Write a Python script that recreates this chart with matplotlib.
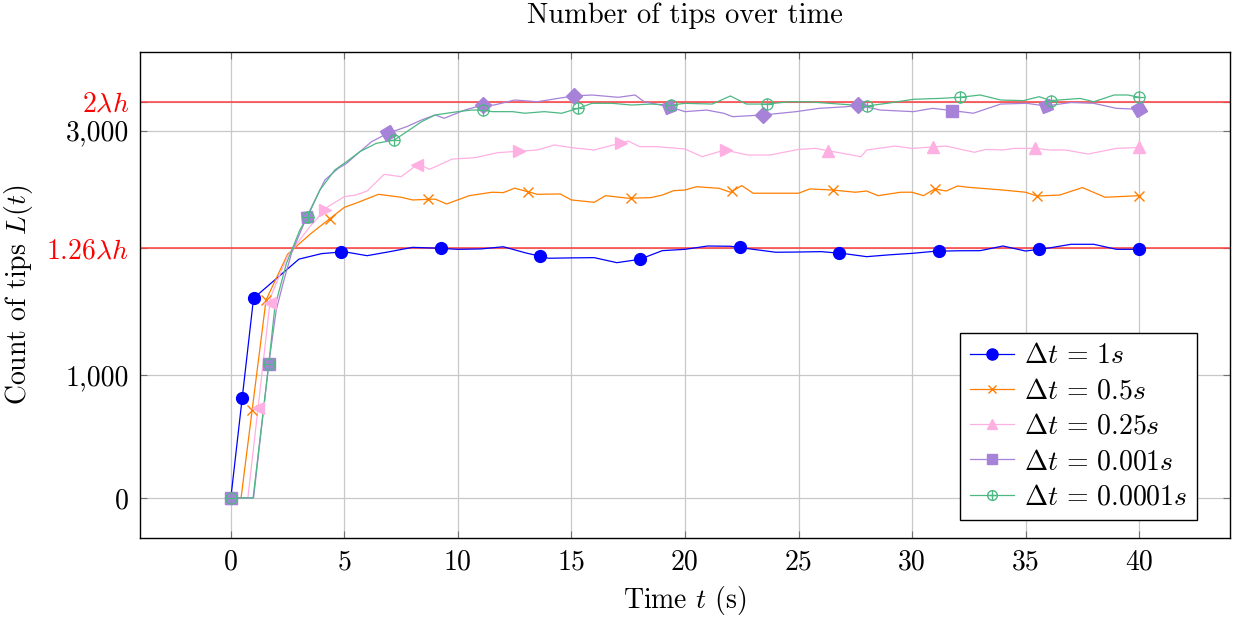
import numpy as np
import matplotlib
matplotlib.use("Agg")
import matplotlib.pyplot as plt
from matplotlib.markers import MarkerStyle
from matplotlib.transforms import Affine2D
from matplotlib.lines import Line2D

plt.rcParams['font.family'] = 'serif'
plt.rcParams['font.serif'] = ['cmr10', 'DejaVu Serif']
plt.rcParams['mathtext.fontset'] = 'cm'
plt.rcParams['axes.formatter.use_mathtext'] = True

# ---------------- data ----------------
lam_h = 1617
ref_levels = [2 * lam_h, 1.26 * lam_h]
ref_labels = [r'$2\lambda h$', r'$1.26\lambda h$']

t_1 = list(range(0, 41))
v_1 = [0, 1630, 1790, 1950, 1995, 2010, 1978, 2011, 2046, 2040, 2030, 2033, 2051,
       2000, 1957, 1960, 1962, 1921, 1948, 2019, 2030, 2057, 2055, 2030, 2006, 2008,
       2011, 1995, 1970, 1985, 1997, 2014, 2018, 2019, 2057, 2016, 2040, 2071, 2071,
       2030, 2030]
mk_1 = [0, 0.5, 1.0, 4.85, 9.25, 13.6, 18.0, 22.4, 26.8, 31.2, 35.6, 40]

t_05 = [0, 0.45, 1.55, 2.5, 3.5, 5.0, 5.5, 6.5, 7.5, 8.0, 9.0, 9.5, 10.5, 11.5, 12.0,
        12.5, 13.5, 14.5, 15.0, 16.0, 16.5, 17.5, 18.5, 19.0, 19.5, 20.0, 20.5, 21.5,
        22.0, 22.5, 23.0, 25.0, 25.5, 26.5, 27.5, 28.0, 28.5, 29.5, 30.0, 30.5, 31.0,
        31.5, 32.0, 32.5, 34.0, 35.0, 35.5, 36.5, 37.5, 38.5, 40.0]
v_05 = [0, 0, 1616, 1990, 2155, 2373, 2406, 2479, 2455, 2433, 2440, 2400, 2468, 2496,
        2493, 2529, 2479, 2482, 2433, 2414, 2468, 2447, 2452, 2473, 2509, 2514, 2541,
        2528, 2496, 2550, 2488, 2488, 2523, 2514, 2496, 2506, 2468, 2496, 2496, 2468,
        2523, 2506, 2547, 2536, 2514, 2496, 2465, 2473, 2534, 2455, 2468]
mk_05 = [0, 0.94, 1.55, 4.36, 8.7, 13.1, 17.6, 22.06, 26.5, 31.0, 35.5, 40]

t_025 = [0, 0.75, 1.75, 2.5, 3.5, 4.25, 5.0, 5.5, 6.0, 6.75, 7.5, 8.25, 8.75, 9.75,
         10.75, 11.75, 13.5, 14.25, 15.0, 16.0, 17.5, 18.0, 18.75, 20.0, 20.75, 21.75,
         22.75, 23.75, 25.0, 25.75, 27.75, 28.0, 29.25, 30.0, 31.5, 32.75, 33.25, 34.0,
         34.5, 35.5, 36.0, 36.75, 37.75, 39.0, 40.0]
v_025 = [0, 0, 1640, 1975, 2220, 2375, 2460, 2473, 2506, 2642, 2623, 2727, 2683, 2767,
         2778, 2819, 2841, 2882, 2860, 2841, 2914, 2868, 2868, 2849, 2786, 2841, 2800,
         2800, 2846, 2854, 2786, 2841, 2873, 2854, 2873, 2822, 2846, 2841, 2854, 2854,
         2841, 2841, 2808, 2854, 2862]
mk_025 = [0, 1.2, 1.72, 4.14, 8.2, 12.7, 17.2, 21.8, 26.3, 30.9, 35.4, 40]

t_0001 = [0, 1.0, 1.67, 2.0, 2.3, 2.67, 3.35, 4.14, 4.73, 5.1, 5.6, 6.2, 6.9, 7.74, 8.4,
          9.0, 9.4, 10.3, 11.1, 11.6, 12.5, 13.5, 14.4, 15.1, 15.9, 17.06, 17.8, 18.2,
          19.3, 20.0, 20.95, 21.7, 22.1, 23.45, 24.2, 24.9, 25.9, 27.1, 27.6, 28.6,
          30.06, 30.9, 31.75, 32.7, 33.9, 35.05, 35.9, 37.0, 38.0, 39.0, 40.0]
v_0001 = [0, 0, 1094, 1535, 1752, 1997, 2297, 2596, 2691, 2732, 2814, 2909, 2977, 3031,
          3086, 3127, 3100, 3167, 3208, 3208, 3249, 3235, 3262, 3282, 3290, 3271, 3290,
          3235, 3194, 3154, 3167, 3141, 3113, 3127, 3141, 3154, 3181, 3194, 3208, 3167,
          3154, 3181, 3163, 3141, 3216, 3222, 3200, 3229, 3222, 3181, 3173]
mk_0001 = [0, 1.67, 3.35, 6.9, 11.1, 15.1, 19.3, 23.45, 27.6, 31.75, 35.9, 40]

t_00001 = [0, 0.98, 1.67, 1.94, 2.45, 3.04, 3.38, 3.92, 4.58, 5.1, 5.68, 6.4, 7.2, 8.4,
           9.0, 10.0, 10.6, 11.1, 11.5, 12.4, 12.95, 13.8, 14.57, 15.3, 15.9, 16.8,
           17.65, 18.5, 19.4, 20.0, 21.2, 22.0, 22.7, 23.6, 24.6, 25.4, 26.8, 28.0,
           28.9, 30.06, 31.2, 32.1, 33.0, 33.9, 34.9, 35.6, 36.1, 37.4, 38.0, 38.9,
           39.5, 40.0]
v_00001 = [0, 0, 1094, 1562, 1916, 2188, 2297, 2514, 2678, 2746, 2827, 2895, 2922, 3072,
           3127, 3154, 3167, 3167, 3154, 3154, 3141, 3154, 3141, 3181, 3222, 3222, 3208,
           3216, 3208, 3222, 3216, 3282, 3216, 3216, 3235, 3235, 3216, 3200, 3222, 3255,
           3262, 3271, 3290, 3249, 3244, 3276, 3244, 3262, 3235, 3290, 3290, 3271]
mk_00001 = [0, 1.67, 3.38, 7.2, 11.1, 15.3, 19.4, 23.6, 28.0, 32.1, 36.1, 40]

x_ticks = [0, 5, 10, 15, 20, 25, 30, 35, 40]
y_ticks = [0, 1000, 3000]
y_tick_labels = ['0', '1,000', '3,000']
labels = [r'$\Delta t \,=\, 1s$', r'$\Delta t \,=\, 0.5s$', r'$\Delta t \,=\, 0.25s$',
          r'$\Delta t \,=\, 0.001s$', r'$\Delta t \,=\, 0.0001s$']

# ---------------- style ----------------
c_blue = '#0000ff'
c_orange = '#ff7f00'
c_pink = '#ffb0e3'
c_purple = '#a682d8'
c_green = '#4cb883'
c_red = '#ff3c3c'

pink_syms = ['^', '<', '<', '>', '<', '>', '>', '>', '^', '^', '^', '^']
purple_rot = [0, 0, 10, 30, 45, 45, 25, 45, 45, 0, 20, 30]

fig = plt.figure(figsize=(12.36, 6.23), dpi=100)
ax = fig.add_axes([140 / 1236, 1 - 538 / 623, 1090 / 1236, 486 / 623])

ax.set_xlim(-4, 44)
ax.set_ylim(-327, 3641)

ax.grid(True, color='#c8c8c8', linewidth=0.9, zorder=0)
ax.set_axisbelow(True)

for lv in ref_levels:
    ax.axhline(lv, color=c_red, linewidth=1.1, zorder=1.5)

lw = 0.9
ax.plot(t_1, v_1, color=c_blue, lw=lw, zorder=2)
ax.plot(t_05, v_05, color=c_orange, lw=lw, zorder=2.1)
ax.plot(t_025, v_025, color=c_pink, lw=lw, zorder=2.2)
ax.plot(t_0001, v_0001, color=c_purple, lw=lw, zorder=2.3)
ax.plot(t_00001, v_00001, color=c_green, lw=lw, zorder=2.4)

# markers
ax.plot(mk_1, np.interp(mk_1, t_1, v_1), 'o', color=c_blue, ms=8.5, ls='none', zorder=3)
ax.plot(mk_05, np.interp(mk_05, t_05, v_05), 'x', color=c_orange, ms=7, mew=1.0,
        ls='none', zorder=3.1)
for tm, sym in zip(mk_025, pink_syms):
    ax.plot([tm], [np.interp(tm, t_025, v_025)], sym, color=c_pink, ms=8,
            ls='none', zorder=3.2)
for tm, ang in zip(mk_0001, purple_rot):
    m = MarkerStyle('s', transform=Affine2D().rotate_deg(ang))
    ax.plot([tm], [np.interp(tm, t_0001, v_0001)], marker=m, color=c_purple, ms=8,
            ls='none', zorder=3.3)
gy = np.interp(mk_00001, t_00001, v_00001)
ax.plot(mk_00001, gy, 'o', mfc='none', mec=c_green, ms=8, mew=0.9, ls='none', zorder=3.4)
ax.plot(mk_00001, gy, '+', color=c_green, ms=8, mew=0.9, ls='none', zorder=3.4)

# ticks
ax.set_xticks(x_ticks)
ax.set_xticklabels([str(x) for x in x_ticks])
ax.set_yticks(y_ticks + ref_levels)
ax.set_yticklabels(y_tick_labels + ref_labels)
for lab in ax.get_yticklabels()[3:]:
    lab.set_color('red')
ax.tick_params(direction='in', top=True, right=True, length=5, width=0.8,
               color='#707070', labelsize=20, pad=8)
for s in ax.spines.values():
    s.set_linewidth(1.0)

ax.set_xlabel(r'Time $t$ (s)', fontsize=20, labelpad=6)
ax.set_ylabel(r'Count of tips $L(t)$', fontsize=20, labelpad=8)
ax.set_title('Number of tips over time', fontsize=20.5, pad=21)

# legend
h1 = Line2D([], [], color=c_blue, lw=lw, marker='o', ms=8)
h2 = Line2D([], [], color=c_orange, lw=lw, marker='x', ms=6)
h3 = Line2D([], [], color=c_pink, lw=lw, marker='^', ms=7)
h4 = Line2D([], [], color=c_purple, lw=lw, marker='s', ms=7)
h5a = Line2D([], [], color=c_green, lw=lw, marker='o', mfc='none', ms=7)
h5b = Line2D([], [], color=c_green, lw=0, marker='+', ms=7)
leg = ax.legend([h1, h2, h3, h4, (h5a, h5b)], labels, loc='lower right',
                bbox_to_anchor=(0.970, 0.037), borderaxespad=0, fontsize=20,
                frameon=True, fancybox=False, edgecolor='black', framealpha=1,
                handlelength=1.6, labelspacing=0.32, borderpad=0.35,
                handletextpad=0.35)
leg.get_frame().set_linewidth(1.0)

fig.savefig('out.png', dpi=100)
